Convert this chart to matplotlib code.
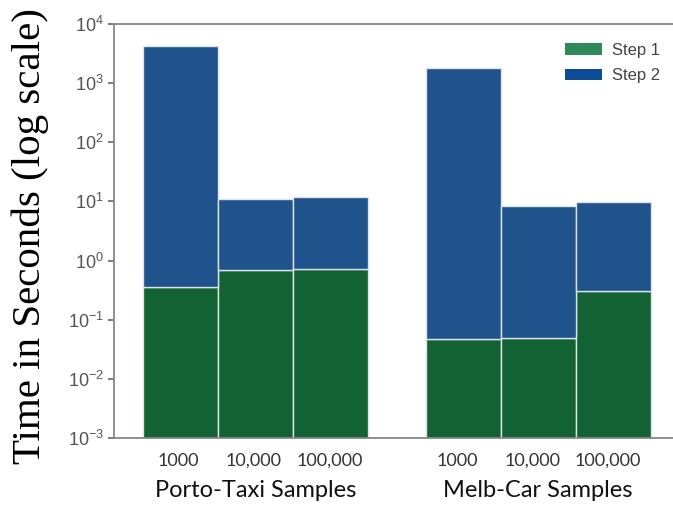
import numpy as np
import matplotlib
matplotlib.use('Agg')
import matplotlib.pyplot as plt
from matplotlib.patches import Patch

# data (seconds)
groups = ['Porto-Taxi Samples', 'Melb-Car Samples']
sizes = ['1000', '10,000', '100,000']
step1 = [0.36, 0.68, 0.73, 0.048, 0.05, 0.31]
total = [4170, 11.2, 11.7, 1780, 8.5, 9.6]
step2 = [t - s for t, s in zip(total, step1)]

bar_green = '#136233'
bar_blue = '#20538b'
leg_green = '#2e8b57'
leg_blue = '#0f4c97'

# bar positions: two groups of three adjacent bars
group_gap = 3.77
x = np.array([0, 1, 2, 0 + group_gap, 1 + group_gap, 2 + group_gap])
# size labels sit slightly left of the bar centres in the original
label_x = x - np.array([0.03, 0.02, 0.01, 0.08, 0.07, 0.07])
group_x = [1.0, 1 + group_gap]

fig = plt.figure(figsize=(6.73, 5.07), dpi=100)
ax = fig.add_axes([0.1694, 0.136, 0.8306, 0.8167])

ax.bar(x, step1, width=1.0, color=bar_green, edgecolor='#dde6e0', linewidth=1.0)
ax.bar(x, step2, width=1.0, bottom=step1, color=bar_blue, edgecolor='#dde3ec', linewidth=1.0)

ax.set_yscale('log')
ax.set_ylim(1e-3, 1e4)
ax.set_xlim(-0.887, 6.57)
ax.set_yticks([10.0 ** k for k in range(-3, 5)])
ax.yaxis.set_minor_locator(matplotlib.ticker.NullLocator())
ax.tick_params(axis='y', labelsize=13, labelcolor='#555555', color='#666666', length=4, width=1.2)
for lab in ax.get_yticklabels():
    lab.set_family('Liberation Sans')

ax.set_xticks(label_x)
ax.set_xticklabels(sizes * 2, family='Lato', fontsize=13, color='#333333')
ax.tick_params(axis='x', length=0, pad=10.5)

for xc, g in zip(group_x, groups):
    ax.text(xc, -0.127, g, transform=ax.get_xaxis_transform(), ha='center', va='center',
            family='Lato', fontsize=17, color='#111111')

ax.set_ylabel('Time in Seconds (log scale)', family='Liberation Serif', fontsize=29.5)
ax.yaxis.set_label_coords(-0.116, 0.487)

ax.spines['right'].set_visible(False)
for s in ['left', 'bottom', 'top']:
    ax.spines[s].set_color('#888888')
    ax.spines[s].set_linewidth(1.3)

handles = [Patch(facecolor=leg_green, label='Step 1'), Patch(facecolor=leg_blue, label='Step 2')]
leg = ax.legend(handles=handles, loc='upper right', bbox_to_anchor=(1.003, 0.99), frameon=False,
                handlelength=2.2, handleheight=0.7, labelspacing=0.62, handletextpad=0.6,
                prop={'family': 'Liberation Sans', 'size': 12})
for t in leg.get_texts():
    t.set_color('#444444')

fig.savefig('out.png', dpi=100)
